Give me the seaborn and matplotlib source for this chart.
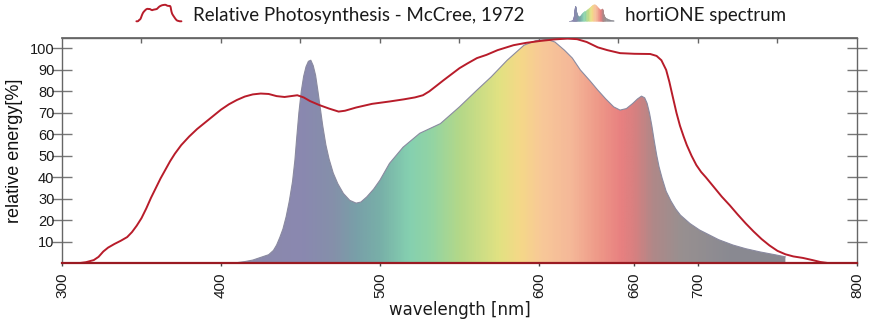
import numpy as np
import pandas as pd
import matplotlib
matplotlib.use("Agg")
import matplotlib.pyplot as plt
import seaborn as sns
from matplotlib.colors import LinearSegmentedColormap
from matplotlib.legend_handler import HandlerBase
from matplotlib.collections import PolyCollection
from matplotlib.lines import Line2D
from matplotlib.patches import Patch

# ---------------- data ----------------
mccree_wl = [300, 310, 315, 320, 323, 326, 329, 333, 337, 341, 344, 347, 350, 353, 356,
             359, 362, 365, 368, 371, 375, 380, 385, 390, 395, 400, 405, 410, 415, 420,
             425, 430, 435, 440, 445, 448, 452, 456, 462, 468, 474, 478, 485, 495, 506,
             515, 522, 527, 531, 535, 540, 545, 550, 555, 561, 567, 574, 584, 592, 601,
             610, 618, 624, 630, 637, 643, 651, 660, 670, 674, 677, 680, 682, 684, 686.5,
             688.7, 691, 693, 696, 699, 702, 705, 710, 715, 720, 725, 730, 735, 740, 745,
             750, 755, 760, 766, 772, 777, 782, 790, 800]
mccree_val = [0, 0, 0.5, 1.5, 3, 5.5, 7.3, 9, 10.5, 12.2, 14.5, 17.5, 21, 25.5, 30.5,
              35, 39.5, 43.5, 47.5, 51, 55, 59, 62.5, 65.5, 68.5, 71.5, 74, 76, 77.6, 78.6,
              79, 78.8, 77.8, 77.4, 77.9, 78.2, 77.2, 75.5, 73.6, 72, 70.6, 71, 72.5, 74.2, 75.3,
              76.3, 77.2, 78.2, 80, 82.3, 85.2, 88, 90.8, 93, 95.5, 97, 99.2, 101.5, 102.6, 103.5,
              104.2, 104.6, 104.3, 103, 100.5, 99.2, 97.8, 97.5, 97.4, 96.5, 94.5, 90, 84.5, 78, 70,
              64, 59, 55, 50, 45.7, 42.5, 40, 35.5, 31, 27, 22.7, 18.6, 14.8, 11.3, 8.3,
              5.8, 4.2, 3.2, 2.5, 1.5, 0.6, 0.1, 0, 0]

horti_wl = [405, 410, 415, 420, 426, 430, 433, 435, 437, 439, 441, 443, 445, 446.5, 447.6,
            449, 450.5, 452, 453.5, 455, 456.5, 458, 459.5, 461, 462.5, 464, 466, 468, 470.6,
            473.5, 477, 481, 485, 488, 491.7, 496, 500, 506, 514.5, 525, 538, 550, 561, 570,
            580, 590.6, 598, 605, 610, 616, 621, 626, 632, 637, 642, 647, 651, 655, 659, 662,
            664.5, 666.5, 668, 669.5, 671, 672.5, 674, 675.5, 677.5, 680, 683, 686, 689, 695,
            701, 713, 722, 730, 739, 749, 755]
horti_val = [0, 0.3, 0.8, 1.5, 3, 4, 6, 8.5, 12, 16, 21.7, 29, 38, 48, 58,
             70, 80, 87, 91.5, 94, 94.5, 92, 87.5, 80, 72, 64, 55, 48.5, 42,
             37, 32.5, 29.3, 28, 28.5, 30.9, 34.5, 38.7, 46.5, 54, 60.5, 65, 72.8, 80.6, 86.8,
             94.5, 101.5, 103.6, 104.2, 103, 99.2, 95.5, 90, 85, 80.6, 76.5, 72.8, 71.3, 72, 74.4, 76.5,
             77.8, 77, 74.5, 70, 64, 57, 50.5, 45, 39.5, 33.5, 29, 25.3, 22.4, 18.5,
             15.5, 11, 8.5, 6.8, 5.3, 3.9, 3]

grad_wl = [400, 450, 470, 485, 500, 518, 532, 550, 575, 588, 602, 620, 638, 652, 660,
           672, 690, 720, 760]
grad_colors = ["#8c8aa8", "#8a88b0", "#8590aa", "#78a0a8", "#78b0a8", "#85d0b0", "#92d4a4",
               "#b4d888", "#e2e282", "#f5d888", "#f8c898", "#f5b898", "#ee9888", "#e88080",
               "#d88080", "#b08888", "#989090", "#8a8a92", "#888890"]

x_ticks = [300, 400, 500, 600, 660, 700, 800]
x_top_ticks = [350, 400, 450, 500, 550, 600, 650, 700, 750]
y_ticks = [10, 20, 30, 40, 50, 60, 70, 80, 90, 100]

label_mccree = "Relative Photosynthesis - McCree, 1972"
label_horti = "hortiONE spectrum"

RED = "#b81c2a"

# ---------------- style ----------------
sns.set_theme(style="white")
plt.rcParams["font.family"] = ["Liberation Sans", "DejaVu Sans"]

fig = plt.figure(figsize=(8.73, 3.22), dpi=100)
ax = fig.add_axes([0.071, 0.1823, 0.9106, 0.6987])

lo, hi = grad_wl[0], grad_wl[-1]
cmap = LinearSegmentedColormap.from_list(
    "spec", [((w - lo) / (hi - lo), c) for w, c in zip(grad_wl, grad_colors)])

# gradient fill for spectrum
poly = ax.fill_between(horti_wl, horti_val, 0, facecolor="none", edgecolor="none")
grad = np.linspace(0, 1, 600).reshape(1, -1)
im = ax.imshow(grad, extent=[lo, hi, 0, 106], cmap=cmap, aspect="auto",
               origin="lower", zorder=1, interpolation="bilinear")
im.set_clip_path(poly.get_paths()[0], transform=ax.transData)

df_h = pd.DataFrame({"wl": horti_wl, "val": horti_val})
sns.lineplot(data=df_h, x="wl", y="val", ax=ax, color="#8a8aa0", lw=0.8,
             estimator=None, sort=False, zorder=2)

df_m = pd.DataFrame({"wl": mccree_wl, "val": mccree_val})
sns.lineplot(data=df_m, x="wl", y="val", ax=ax, color=RED, lw=1.4,
             estimator=None, sort=False, zorder=4)

ax.set_xlim(300, 800)
ax.set_ylim(0, 104.7)
ax.set_xticks(x_ticks)
ax.set_xticklabels([str(t) for t in x_ticks], rotation=90, fontsize=11, color="#1a1a1a")
ax.set_yticks(y_ticks)
ax.set_yticklabels([str(t) for t in y_ticks], fontsize=10.5, color="#1a1a1a")

ax.tick_params(axis="y", which="major", direction="inout", length=15, width=1,
               color="#777777", left=True, right=True, pad=-2)
ax.tick_params(axis="x", which="major", direction="out", length=2.5, width=1,
               color="#444444", bottom=True, top=False, pad=4)

for s in ["left", "top", "right"]:
    ax.spines[s].set_color("#666666")
    ax.spines[s].set_linewidth(1.0)
ax.spines["bottom"].set_color("#9a1a22")
ax.spines["bottom"].set_linewidth(1.6)
ax.spines["bottom"].set_zorder(5)

sec = ax.secondary_xaxis("top")
sec.set_xticks(x_top_ticks)
sec.set_xticklabels([])
sec.tick_params(direction="in", length=3.5, width=1, color="#666666")
sec.spines["top"].set_color("#666666")

ax.set_xlabel("wavelength [nm]", fontsize=12, color="#1a1a1a", labelpad=2,
              family=["DejaVu Sans"])
ax.set_ylabel("relative energy[%]", fontsize=13, color="#111111", labelpad=5)


# ---------------- legend ----------------
class CurveHandler(HandlerBase):
    def __init__(self, xs, ys, kind):
        super().__init__()
        self.xs = np.asarray(xs, float)
        self.ys = np.asarray(ys, float)
        self.kind = kind

    def create_artists(self, legend, orig_handle, xdescent, ydescent, width, height,
                       fontsize, trans):
        xs, ys = self.xs, self.ys
        xn = -xdescent + (xs - xs.min()) / (xs.max() - xs.min()) * width
        yn = -ydescent + ys / ys.max() * height * 1.15
        if self.kind == "line":
            return [Line2D(xn, yn, color=RED, lw=1.4, transform=trans)]
        verts, cols = [], []
        for i in range(len(xn) - 1):
            verts.append([(xn[i], -ydescent), (xn[i], yn[i]),
                          (xn[i + 1], yn[i + 1]), (xn[i + 1], -ydescent)])
            mid = 0.5 * (xs[i] + xs[i + 1])
            cols.append(cmap((mid - lo) / (hi - lo)))
        pc = PolyCollection(verts, facecolors=cols, edgecolors=cols, linewidths=0.3,
                            transform=trans)
        return [pc]


h1 = Line2D([], [], color=RED)
h2 = Patch(facecolor="#8a88b0")
fig.legend(handles=[h1, h2], labels=[label_mccree, label_horti], loc="center",
           bbox_to_anchor=(0.5286, 0.953), ncol=2, frameon=False,
           handlelength=2.4, handleheight=0.8, handletextpad=0.6, columnspacing=2.4,
           prop={"family": "Lato", "size": 13.5}, labelcolor="#1a1a1a",
           handler_map={h1: CurveHandler(mccree_wl, mccree_val, "line"),
                        h2: CurveHandler(horti_wl, horti_val, "fill")})

fig.savefig("out.png", dpi=100)
